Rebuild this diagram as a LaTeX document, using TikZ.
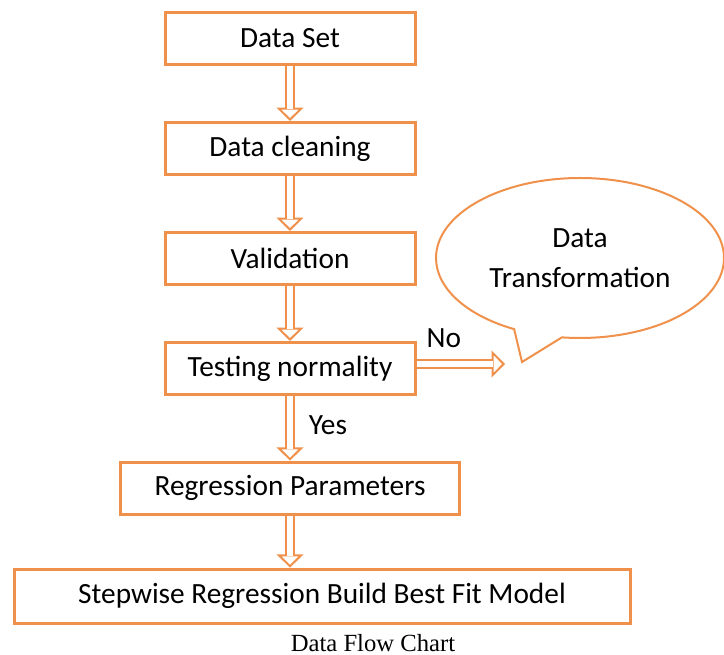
\documentclass[tikz,border=0pt]{standalone}
\usepackage{fontspec}
\setmainfont{Carlito}
\newfontfamily\captionfont{Liberation Serif}
\usepackage{tikz}
\definecolor{boxorange}{RGB}{240,145,75}
\tikzset{
    stage/.style={rectangle,draw=boxorange,line width=2.25pt,text centered,minimum width=187.5pt,minimum height=39pt,font=\fontsize{22}{26}\selectfont},
    flow/.style={draw=boxorange,line width=1.5pt,-{Triangle[open,length=10pt,width=20pt]},postaction={draw=boxorange,-,double=white,double distance=4.5pt,shorten >=9pt}},
    answer/.style={font=\fontsize{22}{26}\selectfont},
}
\usetikzlibrary{shapes.callouts,arrows.meta}
\usetikzlibrary{positioning}

\begin{document}
\begin{tikzpicture}[x=0.75pt,y=-0.75pt,node distance=41.25pt]
\useasboundingbox (0,0) rectangle (724,655);
\node[stage](set) at (290,38.5) {Data Set};
\node[stage](clean) [below =of set] {Data cleaning};
\node[stage](valid) [below =of clean] {Validation};
\node[stage](test) [below =of valid] {Testing normality};
\node[stage,minimum width=254.25pt](reg) [below =48.5pt of test] {Regression Parameters};
\node[stage,minimum width=462pt,minimum height=40.5pt](model) [below =39pt of reg, xshift=24pt] {Stepwise Regression Build Best Fit Model};
\coordinate (tip) at (522,362);
\coordinate (noend) at (505,364);
\node[ellipse callout,draw=boxorange,line width=1.5pt,fill=white,minimum width=216pt,minimum height=120pt,
  callout absolute pointer=(tip),callout pointer arc=20,align=center,font=\fontsize{22}{30}\selectfont] (trans) at (580,258) {Data\\Transformation};
\draw[flow] (set) -- (clean);
\draw[flow] (clean) -- (valid);
\draw[flow] (valid) -- (test);
\draw[flow] (test) -- node[answer,right=10pt,pos=0.45] {Yes} (reg);
\draw[flow] (reg.south) -- (reg.south |- model.north);
\draw[flow] (test.east |- noend) -- node[answer,above=8pt,pos=0.31] {No} (noend);
\node[font=\captionfont\fontsize{18.5}{22}\selectfont] (cap) at (373,643) {Data Flow Chart};
\end{tikzpicture}
\end{document}
